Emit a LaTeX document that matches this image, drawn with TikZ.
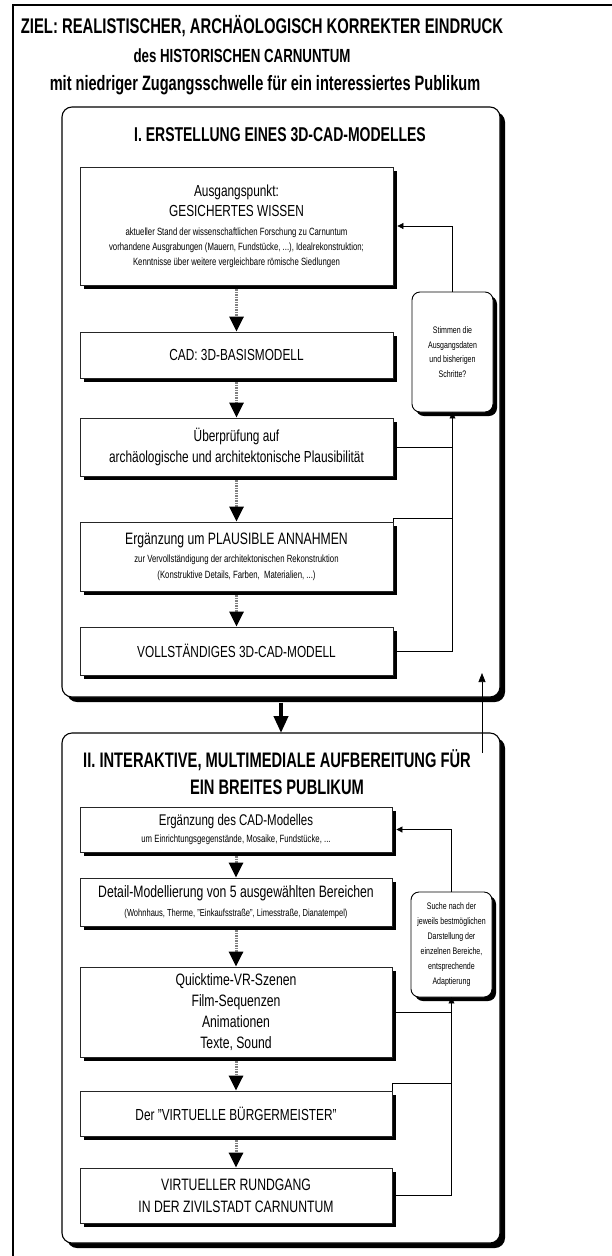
\documentclass[tikz,border=0pt]{standalone}
\usepackage{fontspec}
\setmainfont{Liberation Sans}[FakeStretch=0.74, BoldFeatures={FakeStretch=0.70}]
\usetikzlibrary{arrows.meta,shadows,calc}
\newcommand\szHead{\fontsize{21.2}{25}\selectfont\bfseries}
\newcommand\szHeadB{\fontsize{19}{23}\selectfont\bfseries}
\newcommand\szHeadC{\fontsize{20.8}{23}\selectfont\bfseries}
\newcommand\szTitle{\fontsize{20}{26}\selectfont\bfseries}
\newcommand\szTitleB{\fontsize{21}{27}\selectfont\bfseries}
\newcommand\szMain{\fontsize{16}{19}\selectfont}
\newcommand\szBig{\fontsize{16.5}{21}\selectfont}
\newcommand\szSmall{\fontsize{10.5}{15}\selectfont}
\newcommand\szCheck{\fontsize{9.5}{14.7}\selectfont}
\begin{document}
\begin{tikzpicture}[x=1pt,y=-1pt,
  stepbox/.style={draw=black!85, line width=0.8pt, fill=white, rectangle, align=center,
    inner sep=0pt, minimum width=313pt, font=\szMain,
    drop shadow={shadow xshift=4pt,shadow yshift=-4pt,fill=black,opacity=1}},
  section/.style={draw=black, line width=1.1pt, fill=white, rounded corners=10pt,
    minimum width=438pt, inner sep=0pt,
    drop shadow={shadow xshift=5pt,shadow yshift=-5pt,fill=black,opacity=1}},
  checkbox/.style={draw=black, line width=0.9pt, fill=white, rounded corners=8pt,
    minimum width=81pt, inner sep=0pt, align=center, font=\szCheck,
    drop shadow={shadow xshift=4pt,shadow yshift=-4pt,fill=black,opacity=1}},
  flow/.style={draw=gray, line width=3pt, dash pattern=on 1.5pt off 1pt,
    -{Triangle[width=14pt,length=15pt,black]}},
  fb/.style={draw=black, line width=0.7pt},
  fbarrow/.style={fb, -{Triangle[width=6pt,length=6pt]}},
  headtext/.style={anchor=base, inner sep=0pt}
]
\useasboundingbox (0,0) rectangle (611,1256);
% outer frame
\draw[line width=2pt] (13,1270) -- (13,5) -- (625,5);

% header
\node[headtext, font=\szHead] (h1) at (262,33) {ZIEL: REALISTISCHER, ARCHÄOLOGISCH KORREKTER EINDRUCK};
\node[headtext, font=\szHeadB] (h2) at (242,62) {des HISTORISCHEN CARNUNTUM};
\node[headtext, font=\szHeadC] (h3) at (265,90) {mit niedriger Zugangsschwelle für ein interessiertes Publikum};

% section I
\node[section, minimum height=590pt] (s1) at (281,402) {};
\node[headtext, font=\szTitle] (t1) at (280,141) {I. ERSTELLUNG EINES 3D-CAD-MODELLES};

\node[stepbox, minimum height=118pt, font=\fontsize{16}{15}\selectfont] (b1) at (236.5,226) {%
  Ausgangspunkt:\\[5pt]
  GESICHERTES WISSEN\\[4pt]
  {\szSmall aktueller Stand der wissenschaftlichen Forschung zu Carnuntum}\\
  {\szSmall vorhandene Ausgrabungen (Mauern, Fundstücke, ...), Idealrekonstruktion;}\\
  {\szSmall Kenntnisse über weitere vergleichbare römische Siedlungen}};
\node[stepbox, minimum height=46pt] (b2) at (236.5,355) {CAD: 3D-BASISMODELL};
\node[stepbox, minimum height=58pt, font=\fontsize{16}{21}\selectfont] (b3) at (236.5,447) {Überprüfung auf\\archäologische und architektonische Plausibilität};
\node[stepbox, minimum height=69pt, font=\fontsize{16.5}{16}\selectfont] (b4) at (236.5,556.5) {%
  Ergänzung um PLAUSIBLE ANNAHMEN\\[2pt]
  {\szSmall zur Vervollständigung der architektonischen Rekonstruktion}\\
  {\szSmall (Konstruktive Details, Farben,\ \ Materialien, ...)}};
\node[stepbox, minimum height=48pt] (b5) at (236.5,651) {VOLLSTÄNDIGES 3D-CAD-MODELL};

\node[checkbox, minimum height=120pt] (c1) at (452.5,352) {Stimmen die\\Ausgangsdaten\\und bisherigen\\Schritte?};

\draw[flow] ([yshift=-4pt]b1.south) -- (b2.north);
\draw[flow] ([yshift=-4pt]b2.south) -- (b3.north);
\draw[flow] ([yshift=-4pt]b3.south) -- (b4.north);
\draw[flow] ([yshift=-4pt]b4.south) -- (b5.north);

\draw[fbarrow] ([xshift=4pt]b5.east) -| (c1.south);
\draw[fb] ([xshift=4pt]b3.east) -- (b3.east -| c1.south);
\coordinate (k4) at ($(b4.north east)+(0,-3)$);
\draw[fb] (b4.north east) -- (k4) -- (k4 -| c1.south);
\draw[fbarrow] (c1.north) |- ([xshift=4pt]b1.east);

% connection between sections
\draw[line width=4pt, -{Triangle[width=14pt,length=17pt]}] ([yshift=-5pt]s1.south) -- (s1.south |- 0,733);

% section II
\node[section, minimum height=510pt] (s2) at (281,988) {};
\node[font=\szTitleB, align=center, inner sep=0pt] (t2) at (277,772) {II. INTERAKTIVE, MULTIMEDIALE AUFBEREITUNG FÜR\\EIN BREITES PUBLIKUM};

\coordinate (upstart) at (482,753);
\coordinate (upend) at (482,673);
\draw[fb, -{Triangle[width=7pt,length=9pt]}] (upstart) -- (upend);

\node[stepbox, minimum width=312pt, minimum height=45pt, font=\fontsize{15.5}{17}\selectfont] (d1) at (236,829.5) {%
  Ergänzung des CAD-Modelles\\
  {\fontsize{10.5}{14}\selectfont um Einrichtungsgegenstände, Mosaike, Fundstücke, ...}};
\node[stepbox, minimum width=312pt, minimum height=48pt, font=\fontsize{16.5}{19}\selectfont] (d2) at (236,902) {%
  Detail-Modellierung von 5 ausgewählten Bereichen\\
  {\fontsize{10.2}{14}\selectfont (Wohnhaus, Therme, "Einkaufsstraße", Limesstraße, Dianatempel)}};
\node[stepbox, minimum width=312pt, minimum height=90pt, font=\szBig] (d3) at (236,1012) {%
  Quicktime-VR-Szenen\\Film-Sequenzen\\Animationen\\Texte, Sound};
\node[stepbox, minimum width=312pt, minimum height=45pt] (d4) at (236,1113.5) {Der "VIRTUELLE BÜRGERMEISTER"};
\node[stepbox, minimum width=312pt, minimum height=55pt, font=\fontsize{16.5}{22}\selectfont] (d5) at (236,1195.5) {VIRTUELLER RUNDGANG\\IN DER ZIVILSTADT CARNUNTUM};

\node[checkbox, minimum height=105pt, font=\fontsize{9.5}{15}\selectfont] (c2) at (451.5,944.5) {Suche nach der\\jeweils bestmöglichen\\Darstellung der\\einzelnen Bereiche,\\entsprechende\\Adaptierung};

\draw[flow] ([yshift=-4pt]d1.south) -- (d2.north);
\draw[flow] ([yshift=-4pt]d2.south) -- (d3.north);
\draw[flow] ([yshift=-4pt]d3.south) -- (d4.north);
\draw[flow] ([yshift=-4pt]d4.south) -- (d5.north);

\draw[fbarrow] ([xshift=4pt]d5.east) -| (c2.south);
\draw[fb] ([xshift=4pt]d3.east) -- (d3.east -| c2.south);
\coordinate (k24) at ($(d4.north east)+(0,-7)$);
\draw[fb] (d4.north east) -- (k24) -- (k24 -| c2.south);
\draw[fbarrow] (c2.north) |- ([xshift=4pt]d1.east);
\end{tikzpicture}
\end{document}
